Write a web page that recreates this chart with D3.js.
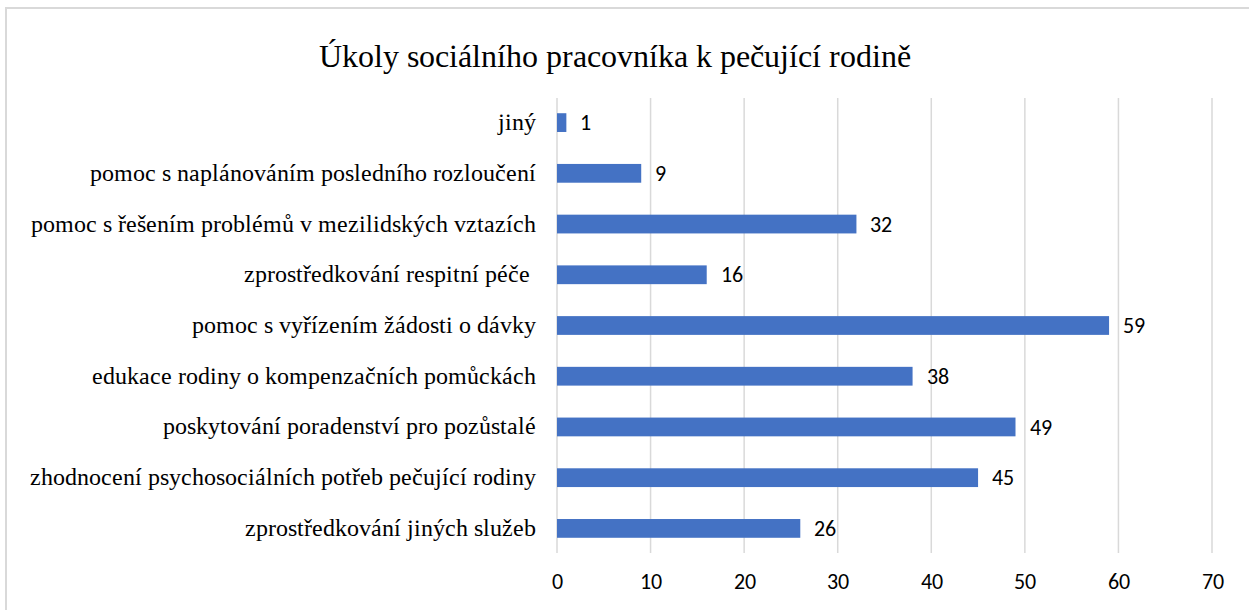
<!DOCTYPE html>
<html>
<head>
<meta charset="utf-8">
<script src="https://cdn.jsdelivr.net/npm/d3@7"></script>
<style>
  @font-face { font-family: "ChartSerif"; src: local("Liberation Serif"), local("LiberationSerif"), local("LiberationSerif-Regular"); }
  @font-face { font-family: "ChartSans"; src: local("Carlito"), local("Carlito-Regular"); }
</style>
</head>
<body style="margin:0">
<svg></svg>
<script>
var width = 1249;
var height = 610;
var svg = d3.select("svg").attr("width", width).attr("height", height);

var serifStack = "ChartSerif, 'Liberation Serif', 'Times New Roman', serif";
var sansStack = "ChartSans, 'Carlito', 'Lato', sans-serif";

// data (bottom to top as in the picture)
var categories = [
  "zprostředkování jiných služeb",
  "zhodnocení psychosociálních potřeb pečující rodiny",
  "poskytování poradenství pro pozůstalé",
  "edukace rodiny o kompenzačních pomůckách",
  "pomoc s vyřízením žádosti o dávky",
  "zprostředkování respitní péče ",
  "pomoc s řešením problémů v mezilidských vztazích",
  "pomoc s naplánováním posledního rozloučení",
  "jiný"
];
var values = [26, 45, 49, 38, 59, 16, 32, 9, 1];
var tickValues = [0, 10, 20, 30, 40, 50, 60, 70];
var title = "Úkoly sociálního pracovníka k pečující rodině";

var margin = {top: 98, right: 37, bottom: 57, left: 557};
var plotW = width - margin.left - margin.right,
    plotH = height - margin.top - margin.bottom;

// outer frame
svg.append("rect")
  .attr("x", 6).attr("y", 8)
  .attr("width", width + 10).attr("height", height + 10)
  .attr("fill", "none").attr("stroke", "#d9d9d9").attr("stroke-width", 2);

var t = svg.append("text")
  .attr("x", 615).attr("y", 67)
  .attr("text-anchor", "middle")
  .attr("font-size", 30)
  .style("font-family", serifStack)
  .attr("fill", "#000")
  .text(title);

var xScale = d3.scaleLinear().domain([0, 70]).range([0, plotW]);
var yScale = d3.scaleBand().domain(categories.slice().reverse()).range([0, plotH]).paddingInner(0.63).paddingOuter(0.3);

var g = svg.append("g").attr("transform", "translate(" + margin.left + "," + margin.top + ")");

// gridlines
g.append("g").selectAll("line")
  .data(tickValues)
  .enter().append("line")
  .attr("x1", function(d) { return xScale(d); })
  .attr("x2", function(d) { return xScale(d); })
  .attr("y1", 0).attr("y2", plotH)
  .attr("stroke", "#d9d9d9").attr("stroke-width", 1.5);

// x axis labels
var xAxis = d3.axisBottom(xScale).tickValues(tickValues).tickSize(0).tickPadding(20);
var xa = g.append("g").attr("transform", "translate(0," + plotH + ")").call(xAxis)
  .attr("font-family", null).attr("font-size", null);
xa.select(".domain").remove();
xa.selectAll("text")
  .attr("font-size", 22)
  .style("font-family", sansStack)
  .attr("fill", "#000");

// y axis labels
var yAxis = d3.axisLeft(yScale).tickSize(0).tickPadding(21);
var ya = g.append("g").call(yAxis)
  .attr("font-family", null).attr("font-size", null);
ya.select(".domain").remove();
var ylab = ya.selectAll("text")
  .attr("font-size", 21)
  .style("font-family", serifStack)
  .style("white-space", "pre")
  .attr("fill", "#000");

// bars
g.append("g").selectAll("rect")
  .data(values)
  .enter().append("rect")
  .attr("x", 0)
  .attr("y", function(d, i) { return yScale(categories[i]); })
  .attr("width", function(d) { return xScale(d); })
  .attr("height", yScale.bandwidth())
  .attr("fill", "#4472c4");

// value labels
g.append("g").selectAll("text")
  .data(values)
  .enter().append("text")
  .attr("x", function(d) { return xScale(d) + 14; })
  .attr("y", function(d, i) { return yScale(categories[i]) + yScale.bandwidth() / 2; })
  .attr("dy", "0.35em")
  .attr("font-size", 22)
  .style("font-family", sansStack)
  .attr("fill", "#000")
  .text(function(d) { return d; });

// size the title and category labels to the widths seen in the original
function fit() {
  t.attr("font-size", 30);
  var tw = t.node().getComputedTextLength();
  if (tw > 0) t.attr("font-size", Math.min(34, 30 * 590 / tw));
  ylab.attr("font-size", 21);
  var longest = d3.max(ylab.nodes(), function(n) { return n.getComputedTextLength(); });
  if (longest > 0) ylab.attr("font-size", Math.min(24, 21 * 498 / longest));
}
fit();
if (document.fonts && document.fonts.ready) document.fonts.ready.then(fit);
</script>
</body>
</html>
